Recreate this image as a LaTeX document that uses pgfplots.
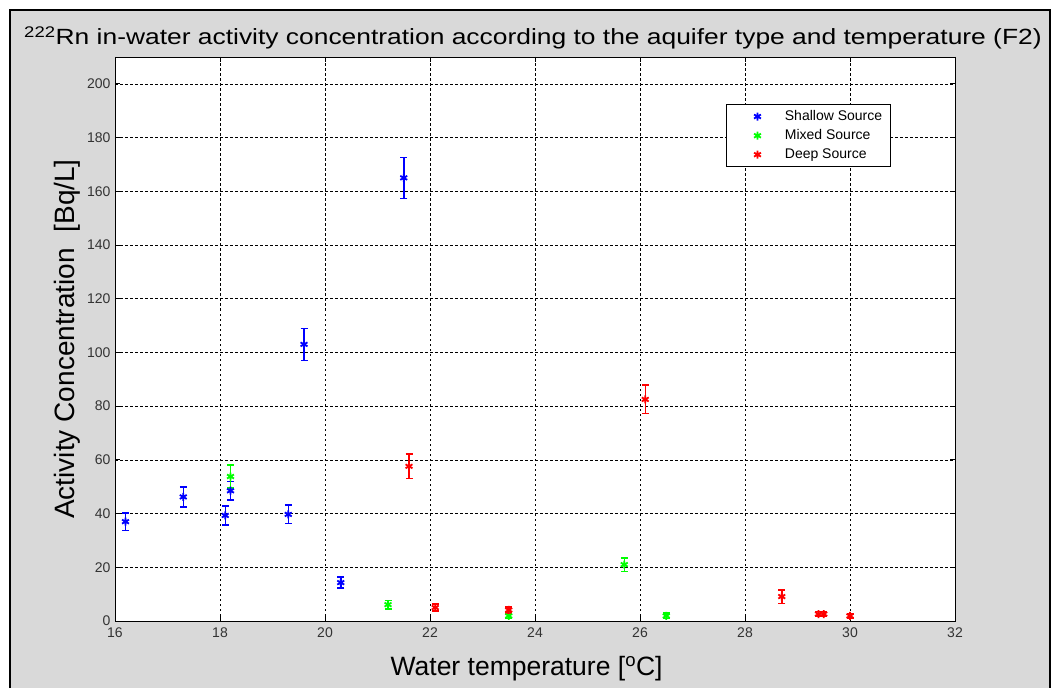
\documentclass[border=0pt]{standalone}
\usepackage{pgfplots}
\pgfplotsset{compat=1.18}
\usepackage{fontspec}
\setmainfont{Liberation Sans}
\definecolor{figgray}{RGB}{217,217,217}
\definecolor{mblue}{RGB}{0,0,255}
\definecolor{mgreen}{RGB}{0,255,0}
\definecolor{mred}{RGB}{255,0,0}

\pgfplotsset{
  src/.style={only marks, #1, mark=asterisk, mark size=4pt,
    mark options={line width=1.8pt, #1},
    legend image code/.code={\path[draw opacity=0, fill opacity=0] (0pt,0pt) -- (50pt,0pt);
        \draw[##1] plot coordinates {(25pt,0pt)};},
    error bars/.cd, y dir=both, y explicit,
    error bar style={line width=1.5pt, #1},
    error mark options={rotate=90, line width=1.5pt, mark size=3.5pt, #1}},
}

\begin{document}
\begin{tikzpicture}
% figure window
\fill[white] (0pt,0pt) rectangle (1054pt,-688pt);
\fill[figgray] (10pt,-10pt) rectangle (1050pt,-688pt);
\draw[line width=2.5pt] (10pt,-688pt) -- (10pt,-10pt) -- (1050pt,-10pt) -- (1050pt,-688pt);
\node[anchor=base, font=\fontsize{22}{26}\selectfont, xscale=1.2, transform shape] at (533pt,-45pt)
  {\textsuperscript{222}Rn in-water activity concentration according to the aquifer type and temperature (F2)};

\begin{axis}[
    at={(115pt,-621pt)}, anchor=south west,
    scale only axis, width=840pt, height=564pt,
    xmin=16, xmax=32, ymin=0, ymax=210,
    xtick={16,18,...,32}, ytick={0,20,...,200},
    axis background/.style={fill=white},
    axis line style={line width=0.9pt},
    tick align=inside, tick pos=both,
    major tick length=5pt,
    every tick/.style={black, line width=0.9pt},
    grid=major,
    major grid style={black, line width=0.6pt, dash pattern=on 2.5pt off 2.5pt},
    /pgf/number format/assume math mode=true,
    tick label style={font=\fontsize{14}{16}\selectfont, text=black!80},
    xticklabel style={yshift=-3pt},
    yticklabel style={xshift=-1pt},
    xlabel={Water temperature [\textsuperscript{o}C]},
    ylabel={Activity Concentration\ \ [Bq/L]},
    xlabel style={font=\fontsize{26.5}{30}\selectfont, at={(axis description cs:0.49,-0.096)}, anchor=base},
    ylabel style={font=\fontsize{28}{32}\selectfont, at={(axis description cs:-0.057,0.5)}, anchor=center},
    legend style={at={(0.727,0.917)}, anchor=north west, draw=black, fill=white,
        font=\fontsize{14}{16}\selectfont, row sep=3.5pt, inner xsep=6pt, inner ysep=4.5pt,
        line width=0.8pt},
    legend cell align=left,
]
% Shallow Source
\addplot+[src=mblue] coordinates {
(16.2,37.0) +- (0,3.3)
(17.3,46.2) +- (0,3.7)
(18.1,39.3) +- (0,3.6)
(18.2,48.5) +- (0,3.4)
(19.3,39.7) +- (0,3.4)
(19.6,103.0) +- (0,6.0)
(20.3,14.3) +- (0,2.1)
(21.5,165.0) +- (0,7.6)
};
\addlegendentry{Shallow Source}

% Mixed Source
\addplot+[src=mgreen] coordinates {
(18.2,53.8) +- (0,4.3)
(21.2,6.1) +- (0,1.6)
(23.5,1.9) +- (0,1.0)
(25.7,21.0) +- (0,2.5)
(26.5,1.9) +- (0,1.0)
};
\addlegendentry{Mixed Source}

% Deep Source
\addplot+[src=mred] coordinates {
(21.6,57.6) +- (0,4.6)
(22.1,5.0) +- (0,1.3)
(23.5,4.1) +- (0,1.1)
(26.1,82.5) +- (0,5.3)
(28.7,9.1) +- (0,2.5)
(29.4,2.6) +- (0,1.0)
(29.5,2.6) +- (0,1.0)
(30.0,1.9) +- (0,0.8)
};
\addlegendentry{Deep Source}
\end{axis}
\end{tikzpicture}
\end{document}
